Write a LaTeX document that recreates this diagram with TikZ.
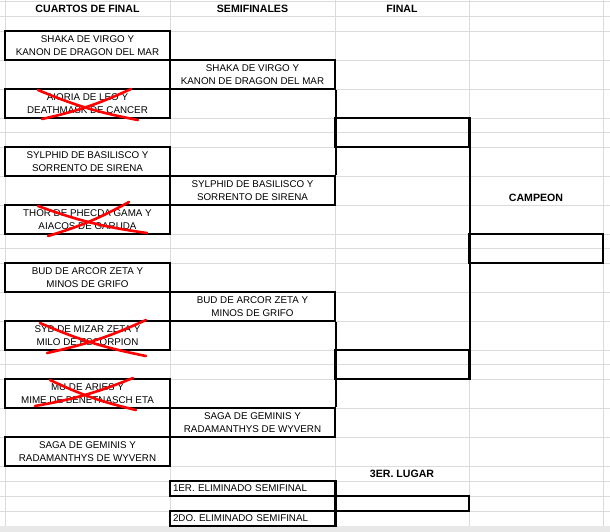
\documentclass[tikz,border=0pt]{standalone}
\usepackage{fontspec}
\setmainfont{Liberation Sans}
\usetikzlibrary{positioning}

\tikzset{
  cell/.style={draw, line width=1.6pt, inner sep=0pt, align=center,
    font=\fontsize{9.8}{13.5}\selectfont},
  qbox/.style={cell, minimum width=165pt, minimum height=29pt},
  fbox/.style={cell, minimum width=134pt, minimum height=29pt},
  lbox/.style={cell, minimum width=165pt, minimum height=15pt, text width=159pt, align=left},
  head/.style={font=\fontsize{10.6}{12}\selectfont\bfseries, inner sep=0pt},
  cross/.style={red, line width=2.6pt, line cap=round},
  grid/.style={gray!28, line width=0.8pt}
}

\begin{document}
\begin{tikzpicture}[x=1pt, y=-1pt]
  \useasboundingbox (0,0) rectangle (610,532);

  % hoja de calculo
  \foreach \r in {1,16,31,60,89,118,132.5,147,176,205,234,248.5,263,292,321,350,364.5,379,408,437,466,481,496,511}
    \draw[grid] (0,\r) -- (610,\r);
  \foreach \c in {5,170,335,469,603}
    \draw[grid] (\c,0) -- (\c,526);
  \fill[gray!18] (0,526) rectangle (610,532);

  \node[head] (hq) at (87.5,9) {CUARTOS DE FINAL};
  \node[head] (hs) at (252.5,9) {SEMIFINALES};
  \node[head] (hf) at (402,9) {FINAL};

  % cuartos
  \node[qbox] (q1) at (87.5,45.5) {SHAKA DE VIRGO Y\\KANON DE DRAGON DEL MAR};
  \node[qbox] (q2) at (87.5,103.5) {AIORIA DE LEO Y\\DEATHMASK DE CANCER};
  \node[qbox] (q3) at (87.5,161.5) {SYLPHID DE BASILISCO Y\\SORRENTO DE SIRENA};
  \node[qbox] (q4) at (87.5,219.5) {THOR DE PHECDA GAMA Y\\AIACOS DE GARUDA};
  \node[qbox] (q5) at (87.5,277.5) {BUD DE ARCOR ZETA Y\\MINOS DE GRIFO};
  \node[qbox] (q6) at (87.5,335.5) {SYD DE MIZAR ZETA Y\\MILO DE ESCORPION};
  \node[qbox] (q7) at (87.5,393.5) {MU DE ARIES Y\\MIME DE BENETNASCH ETA};
  \node[qbox] (q8) at (87.5,451.5) {SAGA DE GEMINIS Y\\RADAMANTHYS DE WYVERN};

  % semifinales
  \node[qbox] (s1) at (252.5,74.5) {SHAKA DE VIRGO Y\\KANON DE DRAGON DEL MAR};
  \node[qbox] (s2) at (252.5,190.5) {SYLPHID DE BASILISCO Y\\SORRENTO DE SIRENA};
  \node[qbox] (s3) at (252.5,306.5) {BUD DE ARCOR ZETA Y\\MINOS DE GRIFO};
  \node[qbox] (s4) at (252.5,422.5) {SAGA DE GEMINIS Y\\RADAMANTHYS DE WYVERN};
  \draw[line width=1.6pt] (s1.south east) -- (s2.north east);
  \draw[line width=1.6pt] (s3.south east) -- (s4.north east);

  % final y campeon
  \node[fbox] (f1) at (402,132.5) {};
  \node[fbox] (f2) at (402,364.5) {};
  \draw[line width=1.6pt] (f1.north east) -- (f2.south east);
  \node[head] (hc) at (536,198) {CAMPEON};
  \node[fbox] (ch) at (536,248.5) {};

  % tercer lugar
  \node[head] (h3) at (402,474) {3ER. LUGAR};
  \node[lbox] (t1) at (252.5,488.5) {1ER. ELIMINADO SEMIFINAL};
  \node[lbox] (t2) at (252.5,518.5) {2DO. ELIMINADO SEMIFINAL};
  \node[fbox, minimum height=15pt] (t3) at (402,503.5) {};
  \draw[line width=1.6pt] (t1.north east) -- (t2.south east);

  % eliminados
  \draw[cross] (38,90) to[bend right=6] (138,120);
  \draw[cross] (131,89) to[bend left=6] (42,119);
  \draw[cross] (38,206) to[bend right=6] (147,233);
  \draw[cross] (129,202) to[bend left=6] (48,236);
  \draw[cross] (40,323) to[bend right=6] (146,356);
  \draw[cross] (146,320) to[bend left=6] (47,353);
  \draw[cross] (50,380) to[bend right=6] (136,410);
  \draw[cross] (133,378) to[bend left=6] (35,406);
\end{tikzpicture}
\end{document}
